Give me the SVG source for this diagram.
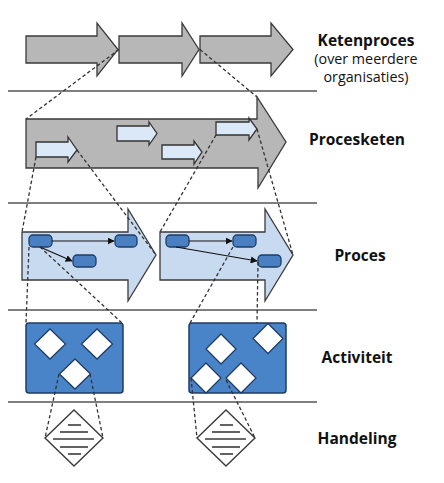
<svg xmlns="http://www.w3.org/2000/svg" width="444" height="483" viewBox="0 0 444 483">
<style>
.bg{fill:#ffffff}
.sep{stroke:#555555;stroke-width:1.5;fill:none}
.grey{fill:#b7b7b7;stroke:#3a3a3a;stroke-width:1.3}
.lite{fill:#dbe8f7;stroke:#333333;stroke-width:1.3}
.proc{fill:#c8daf0;stroke:#3a3a3a;stroke-width:1.3}
.node{fill:#4a80c2;stroke:#1f3c64;stroke-width:1.3}
.box{fill:#4a84c8;stroke:#1f3c64;stroke-width:1.5}
.dia{fill:#ffffff;stroke:#1f3c64;stroke-width:1.3}
.hand{fill:#ffffff;stroke:#3a3a3a;stroke-width:1.4}
.hl{stroke:#3a3a3a;stroke-width:1.6}
.dash{stroke:#333333;stroke-width:1.3;stroke-dasharray:3.5,2.5;fill:none}
.flow{stroke:#111111;stroke-width:1.2;fill:none}
.lb{font-family:"Open Sans","Liberation Sans",sans-serif;font-weight:bold;font-size:15.5px;fill:#111111;text-anchor:middle}
.ls{font-family:"Open Sans","Liberation Sans",sans-serif;font-size:14.3px;fill:#111111;text-anchor:middle}
</style>
<defs>
<marker id="ah" viewBox="0 0 10 10" refX="9" refY="5" markerWidth="7" markerHeight="7" markerUnits="userSpaceOnUse" orient="auto">
<path d="M0,0 L10,5 L0,10 z" fill="#111111"/>
</marker>
</defs>
<rect class="bg" x="0" y="0" width="444" height="483"/>

<g id="separators">
<line class="sep" x1="8" y1="91" x2="317" y2="91"/>
<line class="sep" x1="8" y1="203" x2="317" y2="203"/>
<line class="sep" x1="8" y1="310" x2="317" y2="310"/>
<line class="sep" x1="8" y1="402" x2="317" y2="402"/>
</g>

<g id="ketenproces">
<polygon class="grey" points="26,36 97,36 97,23 118,49.5 97,76 97,63 26,63"/>
<polygon class="grey" points="119,36 182,36 182,23 199,49.5 182,76 182,63 119,63"/>
<polygon class="grey" points="200,36 271,36 271,23 293,49.5 271,76 271,63 200,63"/>
</g>

<g id="procesketen">
<polygon class="grey" points="26,119 257,119 257,97 286,142 258,188 258,168 26,168"/>
<polygon class="lite" points="36,142 68,142 68,137 77,150 68,162 68,157 36,157"/>
<polygon class="lite" points="117,126 149,126 149,122 157,133.5 149,145 149,141 117,141"/>
<polygon class="lite" points="162,145 194,145 194,141 202,152 194,164 194,159 162,159"/>
<polygon class="lite" points="216,122 249,122 249,118 257,129 249,140 249,135 216,135"/>
</g>

<g id="proces-1">
<polygon class="proc" points="22,232 128,232 128,209 156,255 128,301 128,280 22,280"/>
<rect class="node" x="29" y="235" width="23" height="12" rx="4"/>
<rect class="node" x="115" y="235" width="22" height="12" rx="4"/>
<rect class="node" x="73" y="255" width="23" height="12" rx="4"/>
</g>

<g id="proces-2">
<polygon class="proc" points="160,232 265,232 265,209 293,255 265,301 265,280 160,280"/>
<rect class="node" x="166" y="235" width="23" height="12" rx="4"/>
<rect class="node" x="233" y="235" width="23" height="12" rx="4"/>
<rect class="node" x="258" y="255" width="23" height="12" rx="4"/>
</g>

<g id="activiteit-1">
<rect class="box" x="26" y="323" width="97" height="70" rx="3"/>
<polygon class="dia" points="50,329 65.5,344 50,359 34.5,344"/>
<polygon class="dia" points="97,329 112.5,344 97,359 81.5,344"/>
<polygon class="dia" points="75,359 90.5,374 75,389 59.5,374"/>
</g>

<g id="activiteit-2">
<rect class="box" x="189" y="323" width="97" height="70" rx="3"/>
<polygon class="dia" points="221,334 236,349 221,364 206,349"/>
<polygon class="dia" points="268,323.5 283,338.5 268,353.5 253,338.5"/>
<polygon class="dia" points="206,363 221,378 206,393 191,378"/>
<polygon class="dia" points="241,363 256,378 241,393 226,378"/>
</g>

<g id="handeling-1">
<polygon class="hand" points="74,410 103,438 74,466 45,438"/>
<line class="hl" x1="68" y1="425" x2="81" y2="425"/>
<line class="hl" x1="60" y1="432" x2="88" y2="432"/>
<line class="hl" x1="53" y1="439" x2="94" y2="439"/>
<line class="hl" x1="60" y1="447" x2="88" y2="447"/>
<line class="hl" x1="68" y1="454" x2="81" y2="454"/>
</g>

<g id="handeling-2">
<polygon class="hand" points="226,410 255,438 226,466 197,438"/>
<line class="hl" x1="220" y1="425" x2="233" y2="425"/>
<line class="hl" x1="212" y1="432" x2="240" y2="432"/>
<line class="hl" x1="205" y1="439" x2="246" y2="439"/>
<line class="hl" x1="212" y1="447" x2="240" y2="447"/>
<line class="hl" x1="220" y1="454" x2="233" y2="454"/>
</g>

<g id="connectors">
<line class="flow" x1="52" y1="241" x2="114" y2="241" marker-end="url(#ah)"/>
<line class="flow" x1="40" y1="247" x2="72" y2="261" marker-end="url(#ah)"/>
<line class="flow" x1="189" y1="241" x2="232" y2="241" marker-end="url(#ah)"/>
<line class="flow" x1="176" y1="247" x2="257" y2="261" marker-end="url(#ah)"/>

<line class="dash" x1="119" y1="49.5" x2="26" y2="119"/>
<line class="dash" x1="200" y1="49.5" x2="257" y2="97"/>
<line class="dash" x1="36" y1="157" x2="22" y2="232"/>
<line class="dash" x1="77" y1="150" x2="156" y2="255"/>
<line class="dash" x1="216" y1="135" x2="160" y2="232"/>
<line class="dash" x1="257" y1="129" x2="293" y2="255"/>
<line class="dash" x1="29" y1="247" x2="26" y2="323"/>
<line class="dash" x1="40" y1="247" x2="122" y2="323"/>
<line class="dash" x1="233" y1="247" x2="190" y2="323"/>
<line class="dash" x1="258" y1="262" x2="257" y2="323"/>
<line class="dash" x1="59" y1="374" x2="45" y2="438"/>
<line class="dash" x1="90" y1="374" x2="103" y2="438"/>
<line class="dash" x1="191" y1="378" x2="197" y2="438"/>
<line class="dash" x1="226" y1="380" x2="255" y2="438"/>
</g>

<g id="labels">
<text class="lb" x="366" y="46">Ketenproces</text>
<text class="ls" x="366" y="64">(over meerdere</text>
<text class="ls" x="366" y="82">organisaties)</text>
<text class="lb" x="357" y="145">Procesketen</text>
<text class="lb" x="360" y="261">Proces</text>
<text class="lb" x="357" y="363">Activiteit</text>
<text class="lb" x="357" y="444">Handeling</text>
</g>
</svg>
